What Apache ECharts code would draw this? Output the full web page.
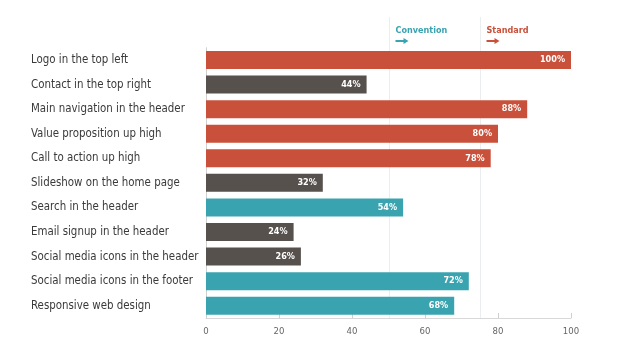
<!DOCTYPE html>
<html><head><meta charset="utf-8">
<script src="https://cdn.jsdelivr.net/npm/echarts@6/dist/echarts.min.js"></script>
<style>html,body{margin:0;padding:0;background:#fff}#c{width:627px;height:358px}</style>
</head><body><div id="c"></div>
<script>
const categories = ["Logo in the top left","Contact in the top right","Main navigation in the header","Value proposition up high","Call to action up high","Slideshow on the home page","Search in the header","Email signup in the header","Social media icons in the header","Social media icons in the footer","Responsive web design"];
const values = [100,44,88,80,78,32,54,24,26,72,68];
const groups = ["standard","other","standard","standard","standard","other","convention","other","other","convention","convention"];
const xTicks = [0,20,40,60,80,100];
const thresholds = [{name:"Convention", value:50, color:"#3aa3b0"},{name:"Standard", value:75, color:"#c9503a"}];
const colors = {standard:"#c9503a", convention:"#3aa3b0", other:"#57514e"};

// pick a narrow font that is installed, and size it so the longest label fits like the reference
const cv = document.createElement('canvas').getContext('2d');
function w(font, txt){ cv.font = font; return cv.measureText(txt).width; }
const probe = "Social media icons in the header";
const candidates = [
  {style:'normal', fam:"'Liberation Sans Narrow'"},
  {style:'normal', fam:"'DejaVu Sans Condensed'"},
  {style:'condensed', fam:"'DejaVu Sans'"},
  {style:'condensed', fam:"'Noto Sans'"},
  {style:'normal', fam:"Roboto"}
];
let pick = {style:'normal', fam:"Roboto"};
for (const c of candidates){
  const a = w(c.style+" 13px "+c.fam+", monospace", probe);
  const b = w("13px monospace", probe);
  const plain = w("13px "+c.fam+", monospace", probe);
  if (Math.abs(a-b) > 0.5 && (c.style==='normal' || a < plain - 1)) { pick = c; break; }
}
const FAM = pick.fam + ", sans-serif";
const targetW = 168;
let labelSize = 13 * targetW / w(pick.style+" 13px "+FAM, probe);
labelSize = Math.min(14, Math.round(labelSize*10)/10);

const chart = echarts.init(document.getElementById('c'), null, {renderer:'canvas'});
chart.setOption({
  animation:false,
  grid:{left:206, right:56, top:47.7, bottom:40},
  xAxis:{type:'value', min:0, max:100, interval:20,
    axisLine:{show:true, lineStyle:{color:'#d8d8d8'}},
    axisTick:{show:true, inside:true, length:5, lineStyle:{color:'#cfcfcf'}},
    splitLine:{show:false},
    axisLabel:{color:'#666', fontSize:9.5, fontStyle:pick.style, fontFamily:FAM, margin:9, formatter:v=>xTicks.includes(v)?String(v):''}
  },
  yAxis:{type:'category', data:categories, inverse:true,
    axisLine:{show:true, lineStyle:{color:'#d0d0d0'}},
    axisTick:{show:false},
    axisLabel:{color:'#3a3a3a', fontSize:labelSize, fontStyle:pick.style, fontFamily:FAM, align:'left', margin:175, width:200, overflow:'none'}
  },
  series:[{type:'bar', barWidth:18,
    data: values.map((v,i)=>({value:v, itemStyle:{color:colors[groups[i]]}})),
    label:{show:true, position:'insideRight', distance:6, color:'#fff', fontSize:9, fontWeight:'bold', fontStyle:pick.style, fontFamily:FAM, formatter:p=>p.value+'%'},
    z:3
  }]
});

const yTop = 17, yAxisPix = 318;
const gfx = [];
thresholds.forEach(t=>{
  const x = Math.round(chart.convertToPixel({xAxisIndex:0}, t.value)) + 0.5;
  gfx.push({type:'line', z:1, shape:{x1:x, y1:yTop, x2:x, y2:yAxisPix}, style:{stroke:'#eaeef1', lineWidth:1}});
  gfx.push({type:'text', z:5, x:x+6, y:26, style:{text:t.name, fill:t.color, font:pick.style+" bold 9px "+FAM}});
  gfx.push({type:'line', z:5, shape:{x1:x+6, y1:41, x2:x+15, y2:41}, style:{stroke:t.color, lineWidth:2}});
  gfx.push({type:'polygon', z:5, shape:{points:[[x+14,38],[x+19,41],[x+14,44]]}, style:{fill:t.color}});
});
chart.setOption({graphic:gfx});
</script></body></html>
